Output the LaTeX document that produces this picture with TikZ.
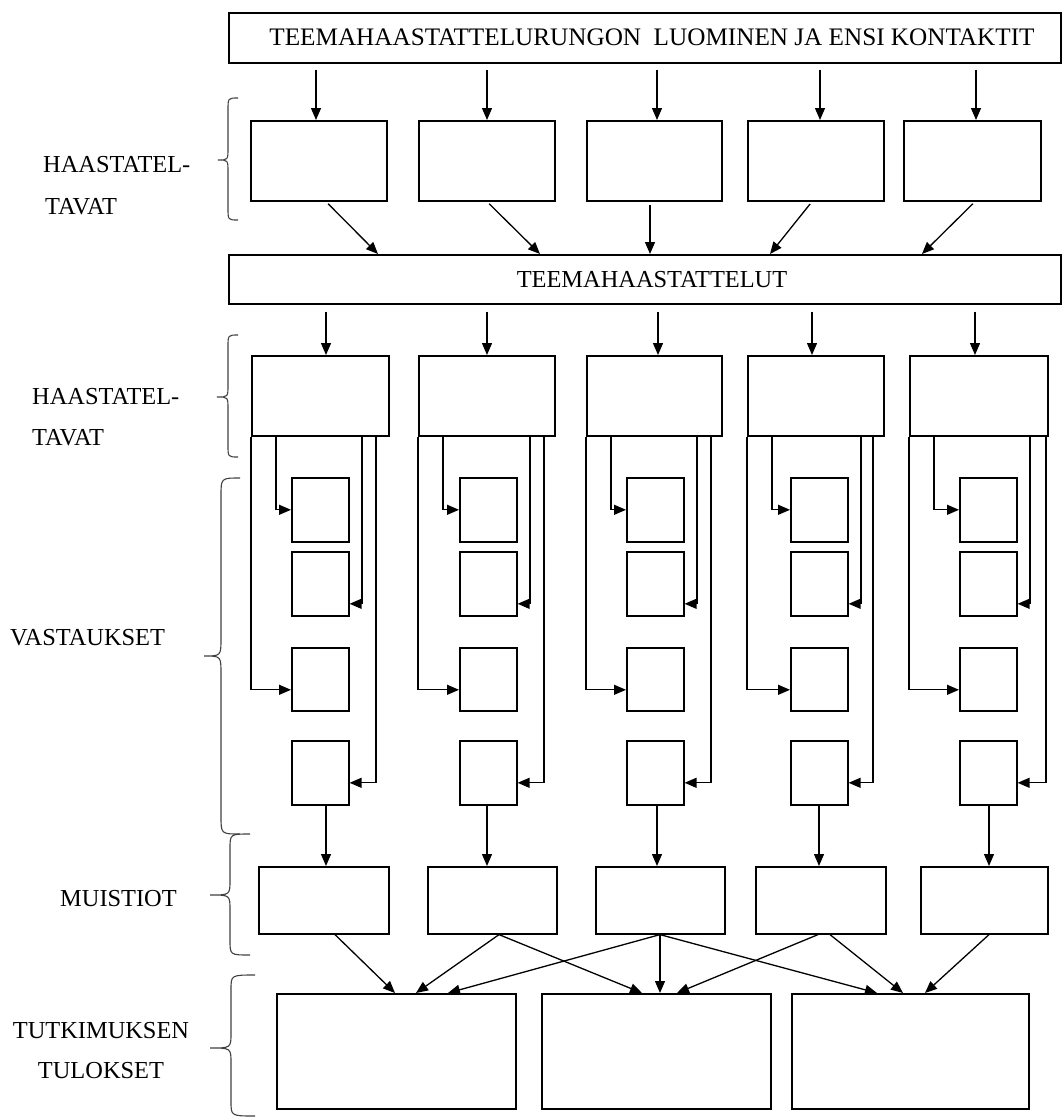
\documentclass[tikz,border=0pt]{standalone}
\usepackage{fontspec}
\setmainfont{Liberation Serif}
\usetikzlibrary{arrows.meta,calc}
\tikzset{
  box/.style={draw=black,line width=1.6pt,inner sep=0pt,anchor=north west},
  arr/.style={line width=1.3pt,-{Triangle[length=12pt,width=10pt]}},
  lbl/.style={inner sep=0pt,text height=16pt,text depth=0pt,font=\fontsize{24.4}{28}\selectfont},
  curly/.style={draw=black!75,line width=1.1pt},
}
% xr, xm, xt, ytop, ytip, ybot, h
\newcommand{\cbrace}[7]{%
  \draw[curly] (#1,#4) .. controls (#2,#4) .. (#2,#4+#7) -- (#2,#5-#7)
    .. controls (#2,#5) .. (#3,#5) .. controls (#2,#5) .. (#2,#5+#7)
    -- (#2,#6-#7) .. controls (#2,#6) .. (#1,#6);}
\begin{document}
\begin{tikzpicture}[x=1pt,y=-1pt]
\useasboundingbox (0,0) rectangle (1062,1117);
% top box
\node[box,minimum width=832,minimum height=50] (T) at (228,12) {};
\node[lbl,font=\fontsize{25.2}{28}\selectfont] (Tt) at (652,37) {TEEMAHAASTATTELURUNGON\ \ LUOMINEN JA ENSI KONTAKTIT};
\foreach \i/\xa/\xb in {1/250/386,2/418/554,3/586/721,4/747/883,5/903/1040}
  \node[box,minimum width={\xb-\xa},minimum height=80] (A\i) at (\xa,120) {};
\foreach \i/\xx in {1/316,2/487,3/657,4/820,5/976}{
  \coordinate (ta\i) at (\xx,0);
  \draw[arr,shorten <=6pt] (T.south -| ta\i) -- (A\i.north -| ta\i);
}
% middle box
\node[box,minimum width=832,minimum height=49] (M) at (228,254) {};
\node[lbl] (Mt) at (652,279) {TEEMAHAASTATTELUT};
\foreach \i/\xs/\xe in {1/326/378,2/487/540,3/650/650,4/812/770,5/975/922}{
  \coordinate (as\i) at (\xs,0);
  \coordinate (ae\i) at (\xe,0);
  \draw[arr,shorten <=3pt] (A\i.south -| as\i) -- (M.north -| ae\i);
}
% columns
\foreach \c/\L/\R/\s/\d/\xin/\xout/\mL/\mR in {1/251/388/291/376/326/326/258/388,2/418/554/459/544/487/487/427/556,3/586/721/626/711/658/657/595/724,4/747/883/790/873/812/819/755/885,5/909/1047/959/1046/975/989/920/1047}{
  \node[box,minimum width={\R-\L},minimum height=80] (B\c) at (\L,355) {};
  \coordinate (mi\c) at (\xin,0);
  \draw[arr,shorten <=7pt] (M.south -| mi\c) -- (B\c.north -| mi\c);
  \node[box,minimum width=57,minimum height=64] (S\c1) at (\s,477) {};
  \node[box,minimum width=57,minimum height=64] (S\c2) at (\s,551) {};
  \node[box,minimum width=57,minimum height=63] (S\c3) at (\s,647) {};
  \node[box,minimum width=57,minimum height=64] (S\c4) at (\s,740) {};
  \coordinate (ba\c) at (\L+25,0);
  \coordinate (bb\c) at (\s+71,0);
  \coordinate (bd\c) at (\d,0);
  \draw[arr] (B\c.south -| ba\c) |- (S\c1.west);
  \draw[arr] (B\c.south -| bb\c) |- ([yshift=-20pt]S\c2.east);
  \draw[arr] (B\c.south west) |- ([yshift=-10.5pt]S\c3.west);
  \draw[arr] (B\c.south -| bd\c) |- ([yshift=-10pt]S\c4.east);
  \node[box,minimum width={\mR-\mL},minimum height=67] (Mu\c) at (\mL,866) {};
  \coordinate (so\c) at (\xout,0);
  \draw[arr] (S\c4.south -| so\c) -- (Mu\c.north -| so\c);
}
% results
\foreach \i/\xa/\xb in {1/276/515,2/541/770,3/791/1028}
  \node[box,minimum width={\xb-\xa},minimum height=115] (R\i) at (\xa,993) {};
\foreach \a/\xs/\b/\xe [count=\k] in {1/335/1/395,2/499/1/416,2/499/2/642,3/660/1/448,3/660/2/660,3/660/3/877,4/818/2/677,4/830/3/903,5/989/3/925}{
  \coordinate (bs\k) at (\xs,0);
  \coordinate (be\k) at (\xe,0);
  \draw[arr] (Mu\a.south -| bs\k) -- (R\b.north -| be\k);
}
% braces
\cbrace{238}{228}{218}{98}{160}{220}{12}
\cbrace{238}{228}{217}{335}{397}{457}{12}
\cbrace{240}{221}{204}{478}{656}{834}{18}
\cbrace{250}{230}{210}{834}{895}{955}{15}
\cbrace{255}{231}{210}{975}{1048}{1116}{15}
% labels
\node[lbl,anchor=west] (h1a) at (43,164.5) {HAASTATEL-};
\node[lbl,anchor=west] (h1b) at (45,206) {TAVAT};
\node[lbl,anchor=west] (h2a) at (32,396) {HAASTATEL-};
\node[lbl,anchor=west] (h2b) at (32,437.5) {TAVAT};
\node[lbl,anchor=west] (va) at (10,637) {VASTAUKSET};
\node[lbl,anchor=west] (mu) at (60,898) {MUISTIOT};
\node[lbl] (tu1) at (101,1030) {TUTKIMUKSEN};
\node[lbl] (tu2) at (101,1070) {TULOKSET};
\end{tikzpicture}
\end{document}
